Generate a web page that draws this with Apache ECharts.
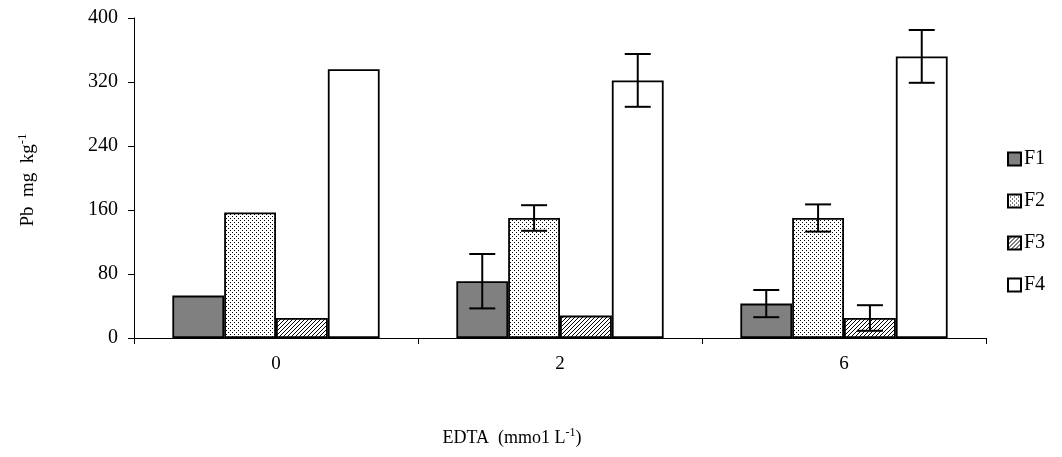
<!DOCTYPE html>
<html>
<head>
<meta charset="utf-8">
<script src="https://cdn.jsdelivr.net/npm/echarts@6/dist/echarts.min.js"></script>
<style>
html,body{margin:0;padding:0;background:#fff;}
#chart{width:1062px;height:457px;}
</style>
</head>
<body>
<div id="chart"></div>
<script>
// EDTA dose groups and Pb fractions (mg/kg)
const categories = ['0', '2', '6'];
const seriesNames = ['F1', 'F2', 'F3', 'F4'];
const f1 = [53, 71, 43];
const f2 = [157, 150, 150];
const f3 = [25, 28, 25];
const f4 = [336, 322, 352];
// standard deviations (null = no bar drawn)
const f1Err = [null, 34, 17];
const f2Err = [null, 16, 17];
const f3Err = [null, null, 16];
const f4Err = [null, 33, 33];
const yTicks = [0, 80, 160, 240, 320, 400];

const values = [f1, f2, f3, f4];
const errors = [f1Err, f2Err, f3Err, f4Err];

function makePattern(kind) {
  const c = document.createElement('canvas');
  const ctx = c.getContext('2d');
  c.width = 4; c.height = 4;
  ctx.fillStyle = '#fff'; ctx.fillRect(0, 0, 4, 4);
  ctx.fillStyle = '#000';
  if (kind === 'dots') {
    ctx.fillRect(0, 0, 1, 1);
    ctx.fillRect(2, 2, 1, 1);
  } else {
    for (let i = 0; i < 4; i++) ctx.fillRect(3 - i, i, 1, 1);
  }
  return { image: c, repeat: 'repeat' };
}

const fills = ['#808080', makePattern('dots'), makePattern('hatch'), '#ffffff'];
const nSeries = seriesNames.length;
const catGap = 0.27;

const barSeries = seriesNames.map((name, i) => ({
  name: name,
  type: 'bar',
  data: values[i],
  barGap: '0%',
  barCategoryGap: (catGap * 100) + '%',
  itemStyle: { color: fills[i], borderColor: '#000', borderWidth: 1.8 },
  emphasis: { disabled: true },
  z: 2
}));

const errData = [];
errors.forEach((arr, s) => {
  arr.forEach((e, c) => {
    if (e != null) errData.push([c, values[s][c], e, s]);
  });
});

const errSeries = {
  type: 'custom',
  data: errData,
  z: 5,
  silent: true,
  renderItem: function (params, api) {
    const c = api.value(0), v = api.value(1), e = api.value(2), s = api.value(3);
    const band = api.size([1, 0])[0];
    const bw = band * (1 - catGap) / nSeries;
    const center = api.coord([c, v]);
    const x = center[0] + (s - (nSeries - 1) / 2) * bw;
    const yHi = api.coord([c, v + e])[1];
    const yLo = api.coord([c, v - e])[1];
    const cap = 13;
    const st = { stroke: '#000', lineWidth: 2 };
    return {
      type: 'group',
      children: [
        { type: 'line', shape: { x1: x, y1: yHi, x2: x, y2: yLo }, style: st },
        { type: 'line', shape: { x1: x - cap, y1: yHi, x2: x + cap, y2: yHi }, style: st },
        { type: 'line', shape: { x1: x - cap, y1: yLo, x2: x + cap, y2: yLo }, style: st }
      ]
    };
  }
};

const font = 'Liberation Serif, Times New Roman, serif';
const chart = echarts.init(document.getElementById('chart'), null, { renderer: 'canvas' });
chart.setOption({
  animation: false,
  backgroundColor: '#fff',
  textStyle: { fontFamily: font, color: '#000' },
  grid: { left: 134, top: 18, right: 76, bottom: 119 },
  legend: {
    data: seriesNames.map(n => ({ name: n, icon: 'rect' })),
    orient: 'vertical',
    left: 1002,
    top: 144,
    itemWidth: 13,
    itemHeight: 13,
    itemGap: 22,
    selectedMode: false,
    textStyle: { fontFamily: font, fontSize: 20, color: '#000', padding: [0, 0, 0, -2] }
  },
  xAxis: {
    type: 'category',
    data: categories,
    axisLine: { lineStyle: { color: '#000', width: 1 } },
    axisTick: { show: true, length: 6, lineStyle: { color: '#000' } },
    axisLabel: { fontFamily: font, fontSize: 19, color: '#000', margin: 17 }
  },
  yAxis: {
    type: 'value',
    min: yTicks[0],
    max: yTicks[yTicks.length - 1],
    interval: yTicks[1] - yTicks[0],
    splitLine: { show: false },
    axisLine: { show: true, lineStyle: { color: '#000', width: 1 } },
    axisTick: { show: true, length: 6, lineStyle: { color: '#000' } },
    axisLabel: { fontFamily: font, fontSize: 20, color: '#000', margin: 16 }
  },
  graphic: [
    {
      type: 'text',
      x: 28, y: 180,
      rotation: Math.PI / 2,
      style: {
        text: '{a|Pb  mg  kg}{s|-1}',
        align: 'center',
        verticalAlign: 'middle',
        rich: {
          a: { fontFamily: font, fontSize: 19, fill: '#000' },
          s: { fontFamily: font, fontSize: 13, fill: '#000', verticalAlign: 'top', padding: [0, 0, 10, 0] }
        }
      }
    },
    {
      type: 'text',
      x: 512, y: 438,
      style: {
        text: '{a|EDTA  (mmo1 L}{s|-1}{a|)}',
        align: 'center',
        verticalAlign: 'middle',
        rich: {
          a: { fontFamily: font, fontSize: 18, fill: '#000' },
          s: { fontFamily: font, fontSize: 12, fill: '#000', verticalAlign: 'top', padding: [0, 0, 10, 0] }
        }
      }
    }
  ],
  series: barSeries.concat([errSeries])
});
</script>
</body>
</html>
